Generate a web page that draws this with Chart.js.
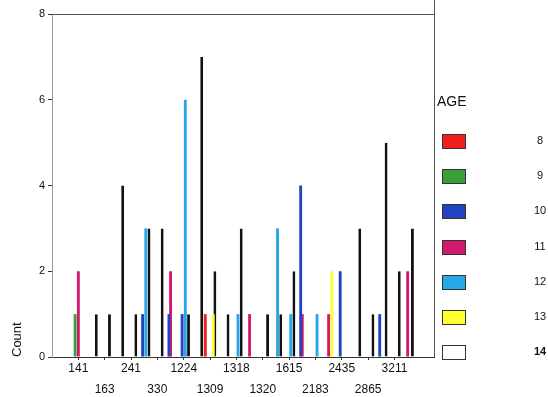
<!DOCTYPE html>
<html>
<head>
<meta charset="utf-8">
<title>Count by AGE</title>
<script src="https://cdn.jsdelivr.net/npm/chart.js@4.4.1/dist/chart.umd.min.js"></script>
<style>
  html, body { margin: 0; padding: 0; background: #fff; }
  #wrap { width: 548px; height: 397px; }
</style>
</head>
<body>
<div id="wrap"><canvas id="chart" width="548" height="397"></canvas></div>
<script>
// ids on the x axis; only every other one is labelled in the original
const categories = ['', '', '141', '', '163', '', '241', '', '330', '', '1224', '', '1309', '', '1318',
                    '', '1320', '', '1615', '', '2183', '', '2435', '', '2865', '', '3211', '', '', ''];

const ages = ['8', '9', '10', '11', '12', '13', '14'];
const ageColors = ['#f21d1d', '#3a9f3a', '#2143c2', '#d3196e', '#27a6ea', '#ffff2e', '#ffffff'];

// counts per id, one list per age
const age8  = [0,0,0,0,0, 0,0,0,0,0, 0,0,1,0,0, 0,0,0,0,0, 0,0,0,0,0, 0,0,0,0,0];
const age9  = [0,0,1,0,0, 0,0,0,0,0, 0,0,0,0,0, 0,0,0,0,0, 0,0,0,0,0, 0,0,0,0,0];
const age10 = [0,0,0,0,0, 0,0,1,0,1, 1,0,0,0,0, 0,0,0,0,4, 0,0,2,0,0, 1,0,0,0,0];
const age11 = [0,0,2,0,0, 0,0,0,0,2, 0,0,0,0,0, 1,0,0,0,1, 0,1,0,0,0, 0,0,2,0,0];
const age12 = [0,0,0,0,0, 0,0,3,0,0, 6,0,0,0,1, 0,0,3,1,0, 1,0,0,0,0, 0,0,0,0,0];
const age13 = [0,0,0,0,0, 0,0,0,0,0, 0,0,1,0,0, 0,0,0,0,0, 0,2,0,0,0, 0,0,0,0,0];
const age14 = [0,0,0,1,1, 4,1,3,3,0, 1,7,2,1,3, 0,1,1,2,0, 0,0,0,3,1, 5,2,3,0,0];

const yTicks = [0, 2, 4, 6, 8];

const seriesValues = [age8, age9, age10, age11, age12, age13, age14];
const FONT = '"Liberation Sans", Arial, sans-serif';

// labels alternate between two rows like the original
const xLabels = categories.map((c, i) => (c && i % 4 === 0) ? ['', c] : c);

const datasets = ages.map((age, i) => ({
  label: age,
  data: seriesValues[i].map(v => v === 0 ? null : v),
  backgroundColor: ageColors[i],
  borderColor: '#111',
  borderWidth: i === 6 ? 2 : 0,
  categoryPercentage: 0.85,
  barPercentage: 1.8
}));

// top + right frame lines
const frame = {
  id: 'frame',
  afterDraw(chart) {
    const { ctx, chartArea: a } = chart;
    ctx.save();
    ctx.strokeStyle = '#555';
    ctx.lineWidth = 1;
    ctx.beginPath();
    ctx.moveTo(a.left, a.top + 0.5);
    ctx.lineTo(a.right, a.top + 0.5);
    ctx.moveTo(a.right + 0.5, 0);
    ctx.lineTo(a.right + 0.5, a.bottom);
    ctx.stroke();
    ctx.restore();
  }
};

// legend on the right: swatch, then the age far to the right
const sideLegend = {
  id: 'sideLegend',
  afterDraw(chart) {
    const ctx = chart.ctx;
    ctx.save();
    ctx.fillStyle = '#111';
    ctx.textBaseline = 'middle';
    ctx.font = '14px ' + FONT;
    ctx.fillText('AGE', 437, 102);
    ctx.textAlign = 'center';
    chart.data.datasets.forEach((ds, i) => {
      const y = Math.round(141 + i * 35.2);
      ctx.fillStyle = ds.backgroundColor;
      ctx.fillRect(442, y - 7, 24, 15);
      ctx.strokeStyle = '#333';
      ctx.lineWidth = 1;
      ctx.strokeRect(442.5, y - 6.5, 23, 14);
      ctx.fillStyle = '#111';
      ctx.font = (i === 6 ? 'bold ' : '') + '11px ' + FONT;
      ctx.fillText(ds.label, 540, y);
    });
    ctx.restore();
  }
};

new Chart(document.getElementById('chart'), {
  type: 'bar',
  data: { labels: xLabels, datasets: datasets },
  plugins: [frame, sideLegend],
  options: {
    responsive: false,
    animation: false,
    layout: { padding: { top: 14, right: 114, bottom: 0, left: 0 } },
    plugins: {
      legend: { display: false },
      tooltip: { enabled: false }
    },
    scales: {
      x: {
        offset: false,
        grid: {
          offset: false,
          drawOnChartArea: false,
          tickLength: 3,
          color: ctx => categories[ctx.index] ? '#333' : 'rgba(0,0,0,0)'
        },
        border: { display: true, color: '#333' },
        ticks: {
          autoSkip: false,
          maxRotation: 0,
          padding: -2,
          color: '#111',
          font: { family: FONT, size: 12, lineHeight: 1.75 }
        },
        afterFit: s => { s.height = 40; }
      },
      y: {
        min: 0,
        max: 8,
        afterBuildTicks: s => { s.ticks = yTicks.map(v => ({ value: v })); },
        ticks: { padding: 3, color: '#111', font: { family: FONT, size: 11 } },
        grid: { drawOnChartArea: false, tickLength: 4, color: '#333' },
        border: { display: true, color: '#9a9a9a' },
        title: {
          display: true,
          text: 'Count',
          align: 'start',
          padding: { top: 10, bottom: 0 },
          color: '#111',
          font: { family: FONT, size: 13 }
        },
        afterFit: s => { s.width = 52; }
      }
    }
  }
});
</script>
</body>
</html>
